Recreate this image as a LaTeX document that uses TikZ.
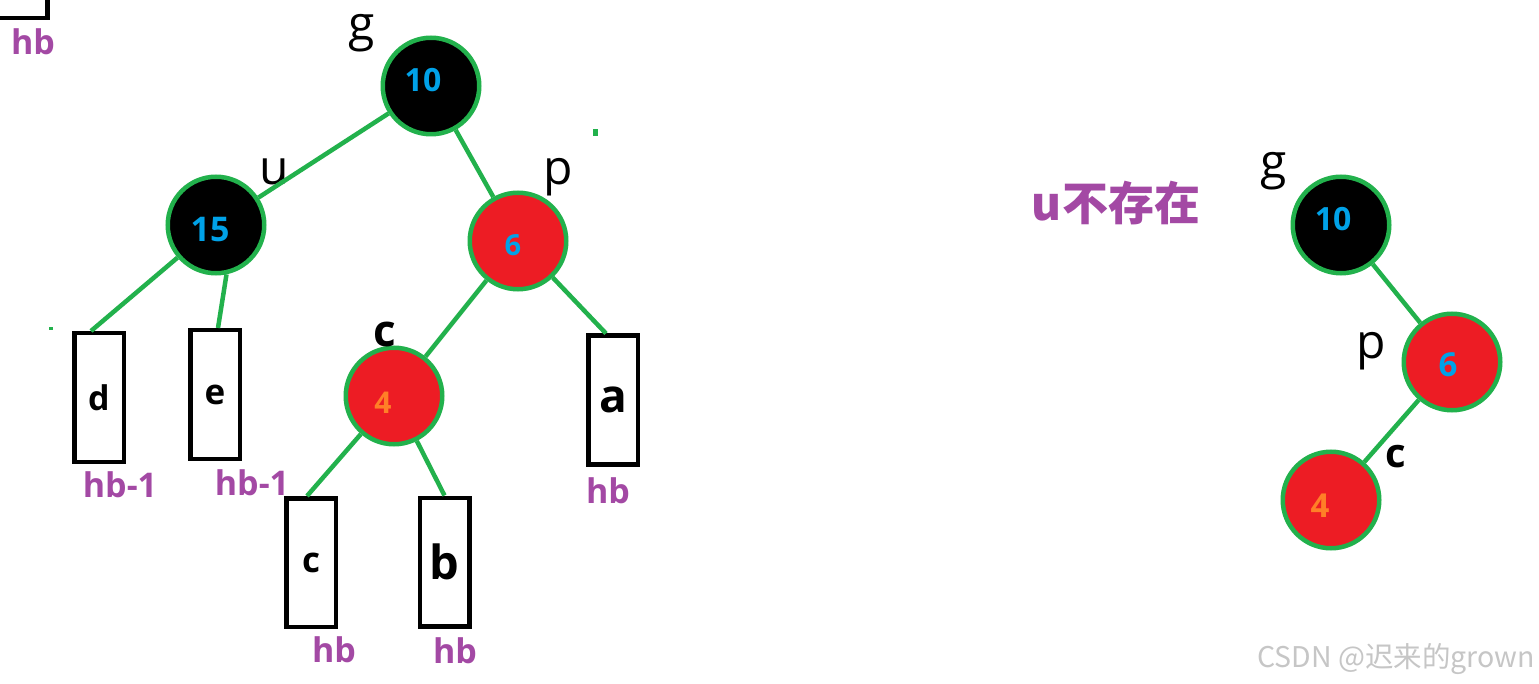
\documentclass[tikz,border=0pt]{standalone}
\usepackage{fontspec}
\setmainfont{Open Sans}
\newfontfamily\cjk{Noto Sans CJK SC}
\definecolor{pgreen}{HTML}{22B14C}
\definecolor{pred}{HTML}{ED1C24}
\definecolor{pblue}{HTML}{00A2E8}
\definecolor{porange}{HTML}{FF7F27}
\definecolor{ppurple}{HTML}{A349A4}
\begin{document}
\begin{tikzpicture}[x=1pt,y=-1pt,
  rbnode/.style={circle,draw=pgreen,line width=4.5pt,minimum size=96.5pt,inner sep=0pt},
  blacknode/.style={rbnode,fill=black},
  rednode/.style={rbnode,fill=pred},
  leafbox/.style={rectangle,draw=black,line width=4.5pt,minimum width=49.5pt,minimum height=128.5pt,inner sep=0pt,fill=white,font=\bfseries},
  link/.style={draw=pgreen,line width=4.5pt},
  num/.style={font=\fontsize{#1}{#1}\selectfont\bfseries,text=pblue,inner sep=0pt,anchor=center},
  lbl/.style={font=\fontsize{48}{48}\selectfont,text=black,inner sep=0pt,anchor=base},
  clbl/.style={font=\fontsize{#1}{#1}\selectfont\bfseries,text=black,inner sep=0pt,anchor=base},
  hgt/.style={font=\fontsize{34}{34}\selectfont\bfseries,text=ppurple,inner sep=0pt,anchor=base}
]
\useasboundingbox (0,0) rectangle (1539,684);
\clip (0,0) rectangle (1539,684);
\fill[white] (0,0) rectangle (1539,684);

% top-left partial box
\draw[line width=4.5pt] (-10,-10) rectangle (47.5,18);
\node[hgt] (hb0) at (33,55) {hb};

% left tree nodes
\node[blacknode] (g) at (431,86) {};
\node[blacknode] (u) at (216,225) {};
\node[rednode] (p) at (518,241) {};
\node[rednode] (c) at (394,396) {};

\node[num=32] (ng) at (423,80) {10};
\node[num=34] (nu) at (210,229.5) {15};
\node[num=29] (np) at (513,245) {6};
\node[num=30,text=porange] (nc) at (383,402.5) {4};

\node[lbl] (lg) at (362,41) {g};
\node[lbl] (lu) at (274,185) {u};
\node[lbl] (lp) at (558,185) {p};
\node[clbl=44] (lc) at (385,347) {c};

% leaf boxes
\node[leafbox] (d) at (99,397.5) {\fontsize{34}{34}\selectfont d};
\node[leafbox] (e) at (215,394.5) {\fontsize{35}{35}\selectfont e};
\node[leafbox] (a) at (613,400) {\fontsize{46}{46}\selectfont a};
\node[leafbox] (cb) at (311,562.5) {\fontsize{35}{35}\selectfont c};
\node[leafbox] (b) at (444.5,562) {\fontsize{47}{47}\selectfont\raisebox{-6pt}{b}};

\node[hgt] (hd) at (120,497) {hb-1};
\node[hgt] (he) at (252,495) {hb-1};
\node[hgt] (ha) at (608,503) {hb};
\node[hgt] (hc) at (334,662) {hb};
\node[hgt] (hbb) at (455,663) {hb};

% left tree edges
\draw[link] (g) -- (u);
\draw[link] (g) -- (p);
\draw[link] (u) -- ([xshift=-8pt]d.north);
\draw[link] (u.-78) -- ([xshift=3pt]e.north);
\draw[link] (p) -- (c);
\draw[link] (p) -- ([xshift=-7pt]a.north);
\draw[link] (c) -- ([xshift=-4pt]cb.north);
\draw[link] (c) -- (b.north);

% stray marks
\fill[pgreen] (593,129) rectangle (598,136);
\fill[pgreen] (49,327) rectangle (53,330);

% right part
\node[font=\cjk\fontsize{46}{46}\selectfont\bfseries,text=ppurple,inner sep=0pt,anchor=center] (nou) at (1116,203) {u不存在};

\node[blacknode] (g2) at (1341,225) {};
\node[rednode] (p2) at (1452,362) {};
\node[rednode] (c2) at (1331,500) {};
\node[num=32] (ng2) at (1333,219) {10};
\node[num=33] (np2) at (1448,365) {6};
\node[num=33,text=porange] (nc2) at (1320,506) {4};
\node[lbl] (lg2) at (1274,179) {g};
\node[lbl] (lp2) at (1371,359) {p};
\node[clbl=40] (lc2) at (1396,467) {c};
\draw[link] (g2) -- (p2);
\draw[link] (p2) -- (c2);

% watermark
\node[font=\cjk\fontsize{28.5}{28.5}\selectfont,text=gray!45,inner sep=0pt,anchor=base east] (wm) at (1535,667) {CSDN @迟来的grown};
\end{tikzpicture}
\end{document}
